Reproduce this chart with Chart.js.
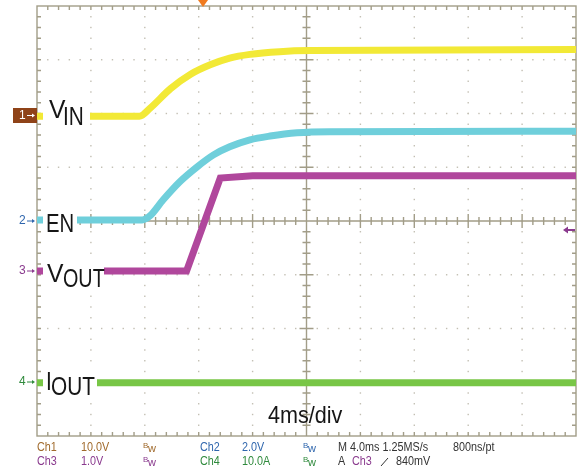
<!DOCTYPE html>
<html>
<head>
<meta charset="utf-8">
<script src="https://cdn.jsdelivr.net/npm/chart.js@4/dist/chart.umd.min.js"></script>
<style>
  body { margin: 0; background: #fff; }
  canvas { display: block; }
</style>
</head>
<body>
<canvas id="scope" width="581" height="470"></canvas>
<script>
// time in ms (4 ms/div, 10 div), level in divisions from screen centre
var vinT  = [0, 7.6, 8.4, 9.9, 11.4, 12.9, 14.3, 15.8, 18.0, 20.3, 40];
var vinV  = [1.95, 1.95, 2.10, 2.46, 2.73, 2.91, 3.03, 3.10, 3.15, 3.17, 3.19];
var enT   = [0, 7.8, 8.4, 9.35, 10.6, 11.9, 13.1, 14.3, 15.8, 17.3, 19.3, 21.7, 40];
var enV   = [0.02, 0.02, 0.10, 0.39, 0.73, 1.01, 1.23, 1.38, 1.51, 1.58, 1.64, 1.66, 1.67];
var voutT = [0, 11.1, 13.6, 16, 40];
var voutV = [-0.93, -0.93, 0.80, 0.84, 0.84];
var ioutT = [0, 40];
var ioutV = [-3.01, -3.01];

function pts(t, v) {
	var out = [];
	for (var i in t) out.push({x: t[i], y: v[i]});
	return out;
}

var SANS = '"Liberation Sans", Arial, sans-serif';

// squeezed text, the scope labels use a condensed face
function narrow(ctx, s, x, y, sx) {
	ctx.save();
	ctx.translate(x, y);
	ctx.scale(sx, 1);
	ctx.fillText(s, 0, 0);
	ctx.restore();
}

// small arrow, dir 1 = right, -1 = left
function arrow(ctx, x0, x1, y, head, lw) {
	var dir = x1 > x0 ? 1 : -1;
	ctx.lineWidth = lw;
	ctx.beginPath();
	ctx.moveTo(x0, y); ctx.lineTo(x1 - dir * head, y);
	ctx.stroke();
	ctx.beginPath();
	ctx.moveTo(x1, y);
	ctx.lineTo(x1 - dir * head, y - head * 0.7);
	ctx.lineTo(x1 - dir * head, y + head * 0.7);
	ctx.closePath();
	ctx.fill();
}

var scopeGrid = {
	id: 'scopeGrid',
	beforeDatasetsDraw: function(chart) {
		var ctx = chart.ctx, a = chart.chartArea;
		var x = chart.scales.x, y = chart.scales.y;
		ctx.save();
		// dotted graticule
		ctx.fillStyle = '#c2beb2';
		for (var d = 1; d < 10; d++) {
			if (d == 5) continue;
			var px = x.getPixelForValue(d * 4);
			for (var m = 1; m < 40; m++) {
				var py = y.getPixelForValue(-4 + m * 0.2);
				ctx.fillRect(px - 0.7, py - 0.7, 1.4, 1.4);
			}
		}
		for (var d = -3; d <= 3; d++) {
			if (d == 0) continue;
			var py = y.getPixelForValue(d);
			for (var m = 1; m < 50; m++) {
				var px = x.getPixelForValue(m * 0.8);
				ctx.fillRect(px - 0.7, py - 0.7, 1.4, 1.4);
			}
		}
		// frame and centre axes with minor ticks
		ctx.strokeStyle = '#a29d88';
		ctx.lineWidth = 1.4;
		ctx.strokeRect(a.left, a.top, a.right - a.left, a.bottom - a.top);
		var cx = x.getPixelForValue(20), cy = y.getPixelForValue(0);
		ctx.beginPath();
		ctx.moveTo(a.left, cy); ctx.lineTo(a.right, cy);
		ctx.moveTo(cx, a.top); ctx.lineTo(cx, a.bottom);
		for (var m = 1; m < 50; m++) {
			var px = x.getPixelForValue(m * 0.8);
			var len = (m % 5 == 0) ? 7 : 4;
			ctx.moveTo(px, cy - len); ctx.lineTo(px, cy + len);
			ctx.moveTo(px, a.top); ctx.lineTo(px, a.top + 4);
			ctx.moveTo(px, a.bottom); ctx.lineTo(px, a.bottom - 4);
		}
		for (var m = 1; m < 40; m++) {
			var py = y.getPixelForValue(-4 + m * 0.2);
			var len = (m % 5 == 0) ? 7 : 4;
			ctx.moveTo(cx - len, py); ctx.lineTo(cx + len, py);
			ctx.moveTo(a.left, py); ctx.lineTo(a.left + 4, py);
			ctx.moveTo(a.right, py); ctx.lineTo(a.right - 4, py);
		}
		ctx.stroke();
		ctx.restore();
	},
	afterDatasetsDraw: function(chart) {
		var ctx = chart.ctx;
		ctx.save();
		// white patches under the trace names
		ctx.fillStyle = '#fff';
		ctx.fillRect(43, 97, 47, 33);
		ctx.fillRect(43, 205, 34, 32);
		ctx.fillRect(43, 256, 61, 36);
		ctx.fillRect(43, 364, 54, 34);
		ctx.fillStyle = '#161616';
		ctx.textBaseline = 'alphabetic';
		ctx.font = '26px ' + SANS;
		narrow(ctx, 'V', 49, 118, 0.95);
		narrow(ctx, 'IN', 63, 125, 0.8);
		narrow(ctx, 'EN', 46, 232, 0.78);
		narrow(ctx, 'V', 47, 282, 0.95);
		narrow(ctx, 'OUT', 63, 287, 0.76);
		narrow(ctx, 'I', 46, 390, 0.8);
		narrow(ctx, 'OUT', 51, 395, 0.8);
		ctx.font = '24px ' + SANS;
		narrow(ctx, '4ms/div', 268, 423, 0.9);
		ctx.restore();
	},
	afterDraw: function(chart) {
		var ctx = chart.ctx;
		ctx.save();
		// channel ground markers
		ctx.fillStyle = '#8f4318';
		ctx.fillRect(13, 108, 24, 15);
		ctx.font = '12px ' + SANS;
		ctx.textBaseline = 'middle';
		ctx.fillStyle = '#fff';
		ctx.strokeStyle = '#fff';
		ctx.fillText('1', 19, 116);
		arrow(ctx, 27, 35, 115.5, 3, 1);
		var marks = [['2', 221, '#2f66ad'], ['3', 271, '#8a3a8e'], ['4', 382, '#2f8a3c']];
		for (var i in marks) {
			ctx.fillStyle = marks[i][2];
			ctx.strokeStyle = marks[i][2];
			ctx.fillText(marks[i][0], 19, marks[i][1]);
			arrow(ctx, 27, 35, marks[i][1], 3, 1);
		}
		// trigger position and level markers
		ctx.fillStyle = '#f07a1e';
		ctx.beginPath();
		ctx.moveTo(198, 0); ctx.lineTo(208, 0); ctx.lineTo(203, 7);
		ctx.fill();
		ctx.fillStyle = '#8a3a8e';
		ctx.strokeStyle = '#8a3a8e';
		arrow(ctx, 575, 563, 230, 5, 2);

		// status line
		var row1 = 448, row2 = 462;
		function t(s, px, py, c) { ctx.fillStyle = c; ctx.font = '12px ' + SANS; narrow(ctx, s, px, py, 0.9); }
		function bw(px, py, c) {
			ctx.fillStyle = c;
			ctx.font = '8px ' + SANS;
			ctx.fillText('B', px, py - 2);
			ctx.font = '11px ' + SANS;
			ctx.fillText('w', px + 5, py + 1);
		}
		var brown = '#a06a2c', purple = '#8a3a8e', blue = '#2f66ad', green = '#2f8a3c', dark = '#333';
		t('Ch1', 37, row1, brown); t('10.0V', 81, row1, brown); bw(143, row1, brown);
		t('Ch2', 200, row1, blue); t('2.0V', 242, row1, blue); bw(303, row1, blue);
		t('M 4.0ms 1.25MS/s', 338, row1, dark); t('800ns/pt', 453, row1, dark);
		t('Ch3', 37, row2, purple); t('1.0V', 81, row2, purple); bw(143, row2, purple);
		t('Ch4', 200, row2, green); t('10.0A', 242, row2, green); bw(303, row2, green);
		t('A', 338, row2, dark); t('Ch3', 352, row2, purple);
		// rising edge trigger symbol
		ctx.strokeStyle = dark;
		ctx.lineWidth = 1;
		ctx.beginPath();
		ctx.moveTo(381, row2 + 4); ctx.lineTo(388, row2 - 4);
		ctx.stroke();
		t('840mV', 396, row2, dark);
		ctx.restore();
	}
};

function trace(label, t, v, color, smooth) {
	return {
		label: label,
		data: pts(t, v),
		borderColor: color,
		borderWidth: 7,
		pointRadius: 0,
		fill: false,
		cubicInterpolationMode: smooth ? 'monotone' : 'default',
		tension: 0
	};
}

new Chart(document.getElementById('scope'), {
	type: 'line',
	data: {
		datasets: [
			trace('VIN', vinT, vinV, '#f2e936', true),
			trace('EN', enT, enV, '#6fcfdb', true),
			trace('VOUT', voutT, voutV, '#b0479c', false),
			trace('IOUT', ioutT, ioutV, '#78c646', false)
		]
	},
	options: {
		responsive: false,
		animation: false,
		layout: { padding: { left: 37, right: 5, top: 6, bottom: 34 } },
		plugins: { legend: { display: false }, tooltip: { enabled: false } },
		scales: {
			x: { type: 'linear', min: 0, max: 40, display: false },
			y: { type: 'linear', min: -4, max: 4, display: false }
		}
	},
	plugins: [scopeGrid]
});
</script>
</body>
</html>
